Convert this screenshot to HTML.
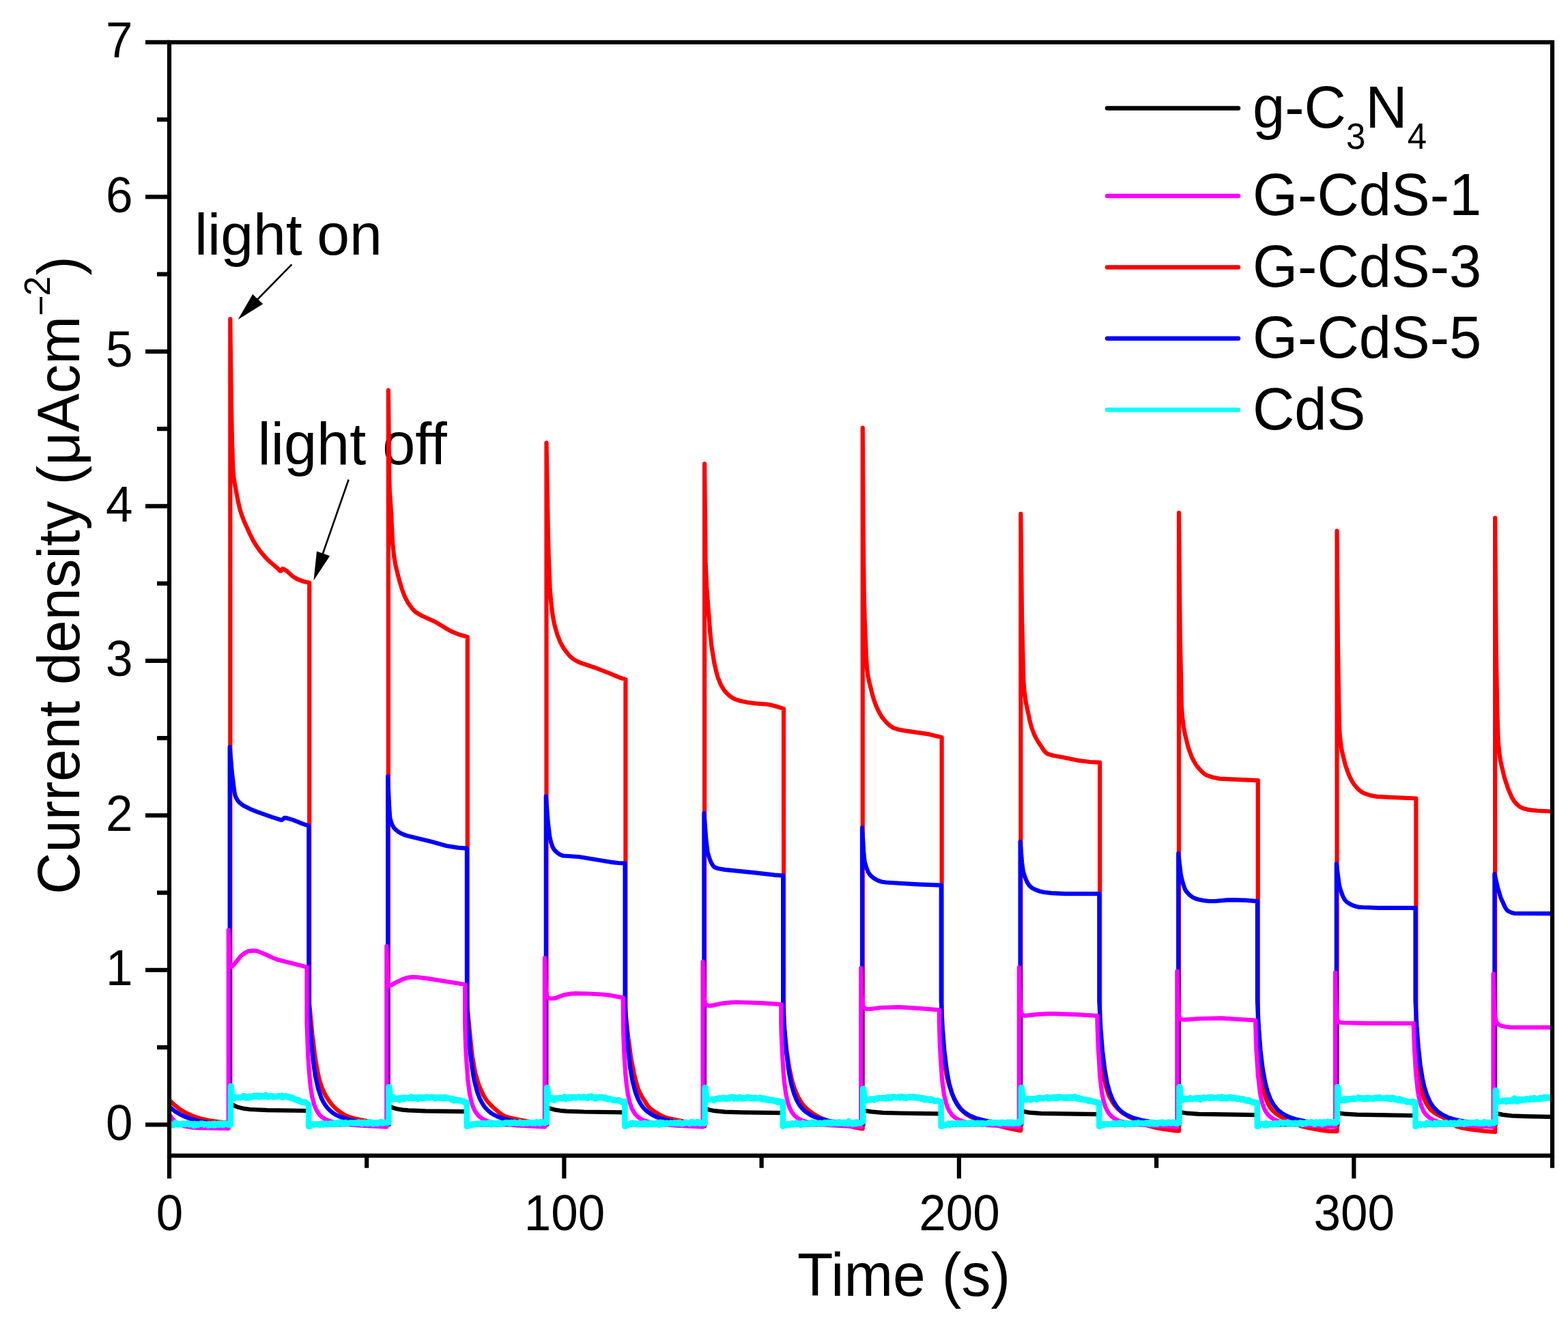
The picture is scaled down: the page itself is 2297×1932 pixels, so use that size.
<!DOCTYPE html>
<html><head><meta charset="utf-8"><title>Current density vs Time</title>
<style>html,body{margin:0;padding:0;background:#fff;overflow:hidden;width:2297px;height:1932px;}svg{display:block;}</style>
</head><body>
<svg width="2297" height="1932" viewBox="0 0 2297 1932">
<rect width="2297" height="1932" fill="#fff"/>
<g font-family="'Liberation Sans', Arial, sans-serif" fill="#000">
<text font-size="86" x="285" y="372.7">light<tspan dx="-2.5"> on</tspan></text>
<text font-size="86.5" x="377.5" y="679.7">light off</text>
</g>
<g fill="none" stroke-width="6.2" stroke-linejoin="round" stroke-linecap="butt">
<path d="M248.0 1646.9L338.3 1646.9L338.3 1616.6L343.8 1619.8L349.8 1622.1L357.8 1623.9L366.8 1625.0L391.8 1626.1L452.7 1627.0L452.7 1647.4L569.9 1646.9L569.9 1620.2L575.4 1622.6L581.4 1624.2L589.4 1625.6L598.4 1626.4L623.4 1627.3L684.3 1628.1L684.3 1647.4L801.5 1646.9L801.5 1622.0L807.0 1624.1L813.0 1625.6L821.0 1626.8L830.0 1627.6L855.0 1628.5L915.9 1629.3L915.9 1647.4L1033.1 1646.9L1033.1 1623.6L1038.6 1625.5L1044.6 1626.8L1061.6 1628.6L1086.6 1629.4L1147.5 1630.2L1147.5 1647.4L1264.7 1646.9L1264.7 1625.9L1270.2 1627.4L1276.2 1628.4L1293.2 1629.8L1318.2 1630.5L1379.1 1631.3L1379.1 1647.4L1496.3 1646.9L1496.3 1627.5L1507.8 1629.6L1524.8 1630.8L1610.7 1632.2L1610.7 1647.4L1727.9 1646.9L1727.9 1628.8L1739.4 1630.7L1756.4 1631.8L1842.3 1633.1L1842.3 1647.4L1959.5 1646.9L1959.5 1630.0L1971.0 1631.7L1988.0 1632.7L2073.9 1634.0L2073.9 1647.4L2191.1 1646.9L2191.1 1630.6L2201.6 1632.9L2214.6 1634.3L2234.6 1635.1L2272.5 1635.8" stroke="#000"/>
<path d="M248.0 1611.2L255.5 1618.5L264.0 1625.1L273.0 1630.4L283.0 1634.9L294.0 1638.4L306.5 1641.2L321.0 1643.4L337.3 1645.0L337.3 467.3L338.8 592.0L340.1 650.8L341.3 686.6L342.4 698.3L343.6 707.2L349.2 736.6L352.0 748.1L354.8 756.4L358.0 764.5L365.1 780.3L370.9 791.8L375.0 798.6L379.8 805.6L384.9 811.9L390.4 818.1L395.5 823.0L406.9 832.6L410.4 836.4L411.4 836.4L413.7 833.2L415.2 833.4L420.3 836.5L428.9 844.3L435.0 848.0L444.8 851.8L453.2 853.5L453.2 1470.7L457.4 1514.3L461.9 1551.1L466.2 1574.6L468.2 1582.9L470.2 1589.2L473.2 1597.0L477.2 1605.0L482.2 1612.7L487.2 1619.1L492.2 1624.2L498.2 1628.9L505.2 1633.4L511.2 1636.1L521.2 1638.9L541.2 1642.8L557.2 1645.2L568.9 1646.3L568.9 571.5L570.2 699.3L570.9 719.3L573.2 753.3L575.2 796.6L577.2 814.6L579.5 828.2L584.3 847.7L588.4 861.7L592.7 873.4L597.2 882.1L603.6 891.2L606.6 894.5L609.6 897.0L618.0 902.0L637.2 910.6L655.2 921.5L661.7 925.1L673.6 929.8L684.8 933.0L684.8 1477.5L690.3 1534.2L692.0 1548.1L696.3 1572.2L700.8 1587.4L703.8 1594.9L707.8 1603.4L710.8 1608.7L714.8 1614.2L720.8 1620.5L731.8 1630.1L735.8 1633.1L739.8 1635.1L745.8 1637.0L752.8 1638.6L786.8 1645.3L798.8 1647.4L800.5 1647.4L800.5 648.5L803.0 787.4L804.0 824.6L805.6 860.7L807.1 880.5L809.6 901.2L812.1 914.4L816.4 929.6L821.0 941.2L826.1 950.1L833.4 959.6L836.9 963.0L840.7 965.9L845.8 968.8L851.6 971.3L870.8 977.7L893.3 986.4L907.0 992.2L916.4 995.1L916.4 1484.3L920.4 1520.6L924.6 1551.5L929.4 1574.9L932.4 1587.0L935.4 1596.4L940.4 1606.4L947.4 1617.5L951.4 1622.5L955.4 1625.9L959.4 1628.6L968.4 1634.0L973.4 1636.4L979.4 1638.1L996.4 1641.5L1030.4 1649.7L1032.1 1649.7L1032.1 679.3L1033.6 822.4L1035.1 859.0L1040.2 925.0L1042.2 945.5L1046.3 971.0L1049.1 983.1L1051.8 992.9L1055.9 1002.7L1058.7 1007.7L1061.7 1012.2L1064.5 1015.3L1068.5 1018.9L1072.3 1021.7L1076.1 1023.9L1084.7 1026.7L1096.1 1029.0L1106.7 1030.4L1122.2 1031.5L1128.5 1032.4L1136.6 1034.5L1148.0 1038.1L1148.2 1500.6L1152.2 1537.6L1156.2 1564.0L1160.0 1581.7L1163.0 1591.8L1166.0 1599.9L1169.0 1606.4L1173.0 1613.5L1176.0 1617.8L1180.0 1622.3L1185.0 1626.8L1191.0 1631.1L1198.0 1635.4L1204.0 1638.3L1215.0 1642.1L1234.0 1647.2L1253.0 1651.4L1262.0 1653.1L1263.7 1653.1L1263.7 626.6L1264.7 783.9L1265.7 868.5L1266.7 906.5L1269.0 962.1L1270.0 978.1L1271.5 989.8L1273.6 1000.1L1278.1 1017.8L1280.9 1027.2L1283.7 1034.7L1288.0 1043.7L1292.3 1050.8L1297.3 1056.9L1303.2 1062.6L1309.0 1066.4L1316.8 1068.7L1325.9 1070.4L1360.6 1075.4L1379.6 1080.0L1379.6 1511.5L1382.6 1546.0L1384.3 1561.9L1387.3 1578.1L1391.6 1593.3L1394.6 1601.8L1397.6 1608.7L1403.6 1618.9L1407.6 1624.3L1411.6 1628.7L1415.6 1632.0L1420.6 1635.1L1431.6 1639.9L1449.6 1645.8L1476.6 1652.4L1492.6 1655.6L1495.3 1655.8L1495.3 752.5L1497.1 907.4L1499.3 996.3L1500.6 1012.1L1502.6 1027.6L1508.2 1054.2L1511.5 1066.7L1515.5 1077.0L1520.3 1085.9L1529.2 1099.2L1532.0 1102.3L1534.5 1104.2L1543.1 1106.8L1557.0 1109.3L1578.8 1113.8L1596.5 1116.0L1611.2 1116.9L1611.2 1529.6L1612.0 1538.9L1613.7 1556.8L1616.7 1576.8L1620.5 1592.9L1624.2 1604.4L1629.2 1613.8L1632.2 1618.1L1636.2 1622.8L1644.2 1629.8L1654.2 1636.1L1671.2 1644.8L1678.2 1647.6L1685.2 1649.7L1695.2 1652.2L1705.2 1654.0L1718.2 1655.8L1726.9 1656.5L1726.9 751.1L1728.7 927.5L1730.9 1034.1L1732.2 1051.1L1734.0 1065.5L1736.0 1075.9L1740.8 1095.2L1745.6 1108.3L1748.7 1114.5L1751.9 1120.0L1755.0 1124.1L1760.3 1130.0L1764.1 1133.3L1767.4 1135.3L1777.2 1138.8L1786.6 1140.6L1842.8 1143.2L1842.8 1545.5L1846.3 1574.7L1849.0 1590.6L1851.3 1599.9L1855.8 1612.7L1859.8 1620.9L1863.8 1626.2L1868.8 1630.8L1875.8 1635.4L1888.8 1642.2L1898.8 1646.7L1908.8 1650.2L1918.8 1652.5L1936.8 1655.6L1947.8 1656.8L1958.5 1657.1L1958.5 777.6L1960.0 948.8L1961.8 1062.5L1962.8 1077.7L1964.6 1093.2L1966.1 1101.3L1971.1 1121.7L1976.0 1134.9L1979.2 1141.8L1982.5 1147.4L1985.6 1151.5L1990.1 1156.3L1993.9 1159.5L1997.5 1161.6L2007.6 1165.1L2017.4 1166.9L2074.4 1169.5L2074.4 1545.5L2078.2 1577.4L2081.4 1594.2L2083.9 1603.2L2086.4 1610.1L2089.4 1616.2L2093.4 1622.6L2096.4 1626.2L2100.4 1629.4L2104.4 1631.9L2115.4 1637.5L2128.4 1647.1L2133.4 1649.8L2142.4 1652.2L2153.4 1654.1L2175.4 1656.9L2190.1 1658.0L2190.1 758.6L2191.6 939.9L2193.3 1040.9L2194.8 1086.1L2196.3 1102.2L2198.3 1115.5L2203.8 1138.9L2209.6 1156.3L2214.6 1167.8L2218.3 1173.8L2221.6 1177.7L2225.3 1180.8L2229.1 1183.1L2231.6 1184.2L2237.3 1185.6L2243.8 1186.7L2251.8 1187.5L2272.5 1188.5" stroke="#f00"/>
<path d="M248.0 1621.1L255.5 1627.2L263.5 1632.2L272.5 1636.4L282.0 1639.7L293.0 1642.4L305.5 1644.5L320.0 1646.0L336.6 1647.1L336.6 1094.1L339.9 1132.4L343.4 1160.1L344.4 1165.0L345.7 1168.2L348.0 1172.2L350.5 1175.2L356.6 1180.0L366.1 1184.8L376.0 1188.8L398.5 1196.9L412.4 1201.2L413.6 1200.7L416.7 1197.9L419.9 1198.2L429.0 1200.9L445.2 1207.3L452.3 1209.6L452.3 1466.2L454.1 1499.8L456.3 1530.9L459.1 1557.2L462.1 1577.0L466.3 1595.5L470.3 1607.1L473.3 1613.4L476.3 1618.4L479.3 1622.4L483.3 1626.7L487.3 1629.9L491.3 1632.6L496.3 1635.1L502.3 1637.5L515.3 1641.0L532.3 1643.8L549.3 1645.6L568.2 1646.9L568.2 1137.1L570.0 1179.1L571.2 1197.5L573.0 1204.1L575.0 1209.2L577.0 1212.5L580.1 1215.6L583.9 1218.6L587.9 1220.9L593.7 1223.3L599.8 1225.1L631.8 1232.7L654.1 1239.0L670.7 1241.6L683.9 1242.6L683.9 1466.2L685.9 1503.9L688.4 1536.5L691.1 1561.1L694.6 1582.1L698.9 1598.8L702.9 1609.4L705.9 1615.2L708.9 1619.9L711.9 1623.6L715.9 1627.6L719.9 1630.7L723.9 1633.1L728.9 1635.6L734.9 1637.9L748.9 1641.5L766.9 1644.2L782.9 1645.8L799.8 1646.9L799.8 1166.3L802.8 1205.5L805.4 1226.3L807.6 1235.2L809.9 1241.4L811.9 1244.7L816.0 1248.8L820.5 1251.9L825.1 1253.5L848.0 1255.0L895.0 1262.8L905.6 1264.0L915.5 1264.6L915.5 1466.2L917.8 1507.7L920.2 1539.1L923.2 1564.6L926.8 1584.5L930.5 1598.8L932.5 1604.6L935.5 1611.5L938.5 1616.9L941.5 1621.2L944.5 1624.7L948.5 1628.4L956.5 1633.7L961.5 1636.0L967.5 1638.2L981.5 1641.7L998.5 1644.2L1014.5 1645.8L1031.4 1646.9L1031.4 1191.0L1034.4 1230.5L1036.5 1247.5L1038.7 1255.5L1041.2 1262.2L1043.8 1267.0L1046.3 1269.9L1047.8 1270.8L1052.4 1272.2L1062.0 1273.9L1106.4 1278.4L1134.7 1281.7L1147.1 1282.7L1147.1 1466.2L1149.3 1507.7L1151.8 1539.1L1155.1 1566.4L1158.8 1586.8L1163.1 1601.8L1167.1 1611.5L1170.1 1616.9L1173.1 1621.2L1176.1 1624.7L1180.1 1628.4L1188.1 1633.7L1193.1 1636.0L1199.1 1638.2L1212.1 1641.5L1229.1 1644.1L1245.1 1645.7L1263.0 1646.9L1263.0 1212.3L1265.3 1249.4L1266.5 1261.5L1269.1 1270.7L1271.8 1277.4L1274.9 1281.9L1279.4 1285.8L1283.7 1288.5L1288.3 1290.6L1292.3 1291.7L1297.6 1292.5L1345.1 1295.3L1378.7 1296.6L1378.7 1466.2L1380.9 1507.7L1383.4 1539.1L1386.7 1566.4L1390.4 1586.8L1394.7 1601.8L1398.7 1611.5L1401.7 1616.9L1404.7 1621.2L1407.7 1624.7L1411.7 1628.4L1419.7 1633.7L1429.7 1637.9L1442.7 1641.3L1458.7 1643.8L1475.7 1645.6L1494.6 1646.9L1494.6 1232.9L1497.1 1263.6L1498.9 1276.7L1501.7 1285.3L1504.7 1292.2L1508.0 1297.2L1511.5 1300.4L1517.6 1303.5L1524.1 1305.8L1530.0 1307.0L1540.1 1308.1L1560.5 1309.2L1610.3 1309.2L1610.3 1466.2L1612.5 1507.7L1615.0 1539.1L1618.3 1566.4L1622.0 1586.8L1626.3 1601.8L1630.3 1611.5L1635.3 1619.9L1638.3 1623.6L1642.3 1627.6L1646.3 1630.7L1650.3 1633.1L1660.3 1637.5L1672.3 1640.8L1687.3 1643.4L1705.3 1645.4L1726.2 1646.9L1726.2 1250.1L1729.7 1280.4L1731.5 1288.6L1733.8 1296.7L1736.0 1302.6L1738.1 1306.1L1742.6 1310.9L1747.2 1314.3L1751.2 1316.2L1755.7 1317.5L1764.1 1319.2L1771.4 1320.0L1779.7 1320.0L1796.9 1318.3L1804.2 1318.1L1824.4 1318.6L1841.9 1320.1L1841.9 1466.2L1844.1 1507.7L1846.6 1539.1L1849.6 1564.6L1853.4 1585.6L1856.9 1598.8L1860.9 1609.4L1865.9 1618.4L1871.9 1625.7L1878.9 1631.3L1887.9 1636.0L1898.9 1639.6L1912.9 1642.5L1932.9 1645.0L1957.8 1646.9L1957.8 1265.3L1961.3 1292.7L1962.6 1299.6L1964.1 1304.7L1967.1 1312.7L1970.2 1318.2L1972.7 1321.0L1977.5 1324.1L1982.0 1326.3L1986.6 1327.8L1990.6 1328.6L1996.4 1329.0L2019.7 1329.8L2073.5 1329.8L2073.5 1466.2L2075.5 1503.9L2077.8 1533.8L2080.5 1559.2L2083.8 1579.6L2086.5 1591.9L2090.5 1604.6L2095.5 1615.2L2100.5 1622.4L2106.5 1628.4L2113.5 1633.1L2122.5 1637.2L2133.5 1640.4L2143.5 1642.4L2156.5 1644.2L2172.5 1645.8L2189.4 1646.9L2189.4 1280.2L2194.2 1300.6L2198.4 1314.7L2204.7 1328.6L2206.9 1332.2L2209.2 1334.5L2214.7 1337.0L2219.4 1338.0L2272.5 1338.2" stroke="#00f"/>
<path d="M248.0 1632.0L252.5 1638.7L257.5 1643.6L263.5 1647.2L271.0 1649.7L280.0 1651.3L291.5 1652.2L334.7 1653.0L334.7 1362.2L336.2 1407.1L337.2 1414.0L338.2 1416.4L340.2 1415.3L344.2 1411.0L352.5 1400.6L358.2 1395.9L363.0 1393.4L371.8 1392.4L375.3 1392.8L379.3 1394.0L390.0 1398.4L401.3 1403.7L406.1 1405.5L449.4 1416.4L449.4 1498.6L451.4 1548.9L452.9 1571.6L454.9 1591.5L457.1 1605.8L460.1 1617.8L463.4 1625.9L467.4 1632.1L471.4 1636.1L477.4 1639.9L484.4 1642.7L494.4 1645.0L507.4 1646.9L524.4 1648.4L566.3 1650.7L566.3 1385.8L567.8 1434.3L569.1 1441.6L570.3 1444.0L572.8 1443.3L577.6 1440.3L589.8 1434.2L598.1 1431.8L603.6 1431.1L610.9 1431.4L625.4 1433.1L681.0 1442.0L681.0 1498.6L682.2 1533.5L683.8 1561.3L685.5 1582.7L687.5 1598.6L689.8 1610.5L692.8 1620.7L696.0 1627.7L700.0 1633.3L705.0 1637.6L711.0 1640.9L719.0 1643.5L729.0 1645.5L742.0 1647.2L759.0 1648.6L797.9 1650.7L797.9 1403.2L799.7 1450.1L801.2 1458.0L801.9 1460.1L802.9 1461.6L807.4 1462.5L811.7 1462.4L815.2 1461.4L825.9 1457.3L836.0 1455.6L843.0 1455.1L862.5 1455.5L882.0 1456.5L895.8 1458.2L912.6 1461.4L912.9 1506.8L914.4 1544.1L916.1 1571.6L917.9 1589.5L919.9 1603.1L922.4 1614.5L925.6 1623.8L929.6 1630.8L933.6 1635.3L938.6 1638.9L944.6 1641.7L952.6 1644.0L962.6 1645.8L975.6 1647.4L991.6 1648.7L1029.5 1650.7L1029.5 1408.7L1031.3 1461.4L1032.8 1468.7L1033.8 1470.9L1034.8 1471.9L1038.0 1473.1L1041.3 1473.1L1057.8 1469.7L1070.8 1468.4L1079.8 1468.0L1114.9 1469.1L1144.2 1471.2L1144.2 1498.6L1144.7 1514.3L1146.0 1544.1L1147.7 1571.6L1149.2 1587.3L1151.2 1601.7L1153.5 1612.6L1156.2 1621.4L1159.2 1627.7L1163.2 1633.3L1167.2 1636.9L1173.2 1640.4L1180.2 1643.0L1189.2 1645.0L1201.2 1646.8L1216.2 1648.2L1261.1 1650.7L1261.1 1418.0L1262.4 1456.7L1263.1 1468.3L1265.1 1474.9L1266.1 1476.2L1267.9 1477.3L1270.1 1478.1L1272.6 1478.2L1289.6 1476.0L1316.9 1475.1L1349.0 1477.1L1375.8 1479.3L1375.8 1498.6L1376.8 1527.6L1378.0 1553.3L1379.5 1574.6L1381.0 1589.5L1383.0 1603.1L1385.3 1613.5L1387.8 1621.4L1390.8 1627.7L1394.8 1633.3L1398.8 1636.9L1404.8 1640.4L1411.8 1643.0L1419.8 1644.8L1430.8 1646.5L1443.8 1647.8L1492.7 1650.7L1492.7 1417.0L1494.5 1474.7L1495.0 1478.7L1496.2 1483.3L1497.2 1485.4L1498.7 1486.7L1501.0 1487.6L1503.7 1487.7L1521.2 1485.7L1535.0 1484.9L1544.8 1484.8L1579.1 1486.2L1607.4 1487.9L1607.4 1498.6L1608.7 1533.5L1611.2 1574.6L1612.7 1589.5L1614.4 1601.7L1616.4 1611.6L1618.9 1620.0L1621.4 1625.9L1624.4 1630.8L1628.4 1635.3L1633.4 1638.9L1639.4 1641.7L1646.4 1643.8L1654.4 1645.4L1665.4 1646.9L1689.4 1648.9L1724.3 1650.7L1724.3 1422.5L1726.1 1481.5L1727.3 1488.3L1728.3 1490.8L1729.6 1492.3L1732.1 1493.4L1734.8 1493.6L1758.4 1492.0L1788.4 1491.4L1839.0 1494.5L1840.5 1539.0L1842.8 1574.6L1845.8 1600.2L1847.5 1609.4L1849.8 1617.8L1852.0 1623.8L1855.0 1629.4L1858.0 1633.3L1862.0 1636.9L1867.0 1639.9L1872.0 1642.0L1879.0 1644.0L1888.0 1645.7L1914.0 1648.4L1955.9 1650.7L1955.9 1424.5L1957.7 1486.0L1958.9 1492.8L1959.9 1495.4L1960.9 1496.7L1963.9 1497.7L1967.9 1498.0L2003.7 1498.8L2070.6 1499.0L2070.6 1498.6L2072.1 1539.0L2074.1 1571.6L2076.6 1595.2L2078.3 1605.8L2080.1 1613.5L2082.1 1620.0L2084.6 1625.9L2086.6 1629.4L2089.6 1633.3L2093.6 1636.9L2097.6 1639.4L2102.6 1641.7L2108.6 1643.5L2119.6 1645.7L2135.6 1647.6L2157.6 1649.2L2187.5 1650.7L2187.5 1426.6L2188.8 1470.1L2189.5 1484.1L2191.5 1495.1L2192.5 1497.6L2194.5 1499.9L2196.8 1501.5L2199.2 1502.5L2206.2 1504.0L2213.0 1504.8L2272.5 1504.9" stroke="#f0f"/>
<path d="M248.0 1645.1L249.0 1648.7L250.0 1646.4L251.0 1647.2L253.0 1646.9L254.0 1648.3L255.0 1646.9L256.0 1647.4L257.0 1644.1L258.0 1646.5L259.0 1647.0L260.0 1646.9L262.0 1647.6L264.0 1646.3L265.0 1646.9L266.0 1646.0L267.0 1646.9L268.0 1646.7L269.0 1645.5L271.0 1647.1L273.0 1646.3L274.0 1645.2L275.0 1646.9L276.0 1646.9L277.0 1645.9L278.0 1647.4L279.0 1647.0L280.0 1646.0L282.0 1646.6L283.0 1646.2L284.0 1649.0L285.0 1645.9L286.0 1647.5L287.0 1648.0L288.0 1646.5L289.0 1646.2L290.0 1647.1L291.0 1647.6L292.0 1646.7L293.0 1646.8L294.0 1645.6L296.0 1646.6L297.0 1645.8L298.0 1646.9L299.0 1647.5L300.0 1646.3L301.0 1646.3L303.0 1647.3L304.0 1646.5L305.0 1648.7L306.0 1646.2L307.0 1646.3L308.0 1648.0L309.0 1646.7L310.0 1647.5L311.0 1646.1L312.0 1648.3L314.0 1646.2L315.0 1645.8L316.0 1648.4L317.0 1647.1L318.0 1646.5L319.0 1647.2L320.0 1645.5L321.0 1647.7L322.0 1646.4L323.0 1647.6L324.0 1645.6L325.0 1646.7L326.0 1647.0L327.0 1648.1L328.0 1645.4L329.0 1646.1L330.0 1646.1L331.0 1645.8L333.0 1647.2L334.0 1647.4L335.0 1647.4L336.0 1645.6L337.0 1647.9L338.0 1647.2L337.8 1647.2L337.8 1590.8L338.8 1590.8L339.8 1602.6L340.8 1607.8L341.8 1609.1L342.8 1609.4L344.8 1607.0L347.8 1608.0L348.8 1607.4L349.8 1607.8L350.8 1606.9L351.8 1608.1L352.8 1607.3L353.8 1607.4L354.8 1606.8L355.8 1607.0L356.8 1605.1L357.8 1605.8L358.8 1605.8L359.8 1608.5L360.8 1607.1L361.8 1607.3L362.8 1606.3L363.8 1608.5L364.8 1605.7L365.8 1605.7L366.8 1607.5L368.8 1607.0L370.8 1605.8L371.8 1604.7L372.8 1606.4L373.8 1605.6L374.8 1606.0L375.8 1604.7L376.8 1605.5L377.8 1605.0L378.8 1606.9L379.8 1606.1L380.8 1606.6L381.8 1604.7L383.8 1606.1L384.8 1606.2L385.8 1605.4L386.8 1606.4L387.8 1606.5L389.8 1603.8L390.8 1605.9L392.8 1606.7L393.8 1606.8L394.8 1605.3L395.8 1605.0L396.8 1605.7L397.8 1605.5L399.8 1605.6L400.8 1607.0L401.8 1606.1L402.8 1605.7L403.8 1606.4L404.8 1606.2L405.8 1606.5L406.8 1606.1L407.8 1605.2L408.8 1606.2L409.8 1606.0L410.8 1605.3L411.8 1605.5L412.8 1604.7L413.8 1607.7L414.8 1605.4L415.8 1606.5L417.8 1605.5L418.8 1605.4L419.8 1605.7L420.8 1606.7L421.8 1605.9L422.8 1607.7L423.8 1607.9L424.8 1607.5L425.8 1608.9L426.8 1607.0L427.8 1608.2L428.8 1607.6L429.8 1609.7L430.8 1610.3L432.8 1610.1L433.8 1611.4L434.8 1611.0L435.8 1611.6L436.8 1610.7L437.8 1612.8L438.8 1611.8L439.8 1613.5L440.8 1614.0L441.8 1614.2L442.8 1614.9L443.8 1614.2L444.8 1613.8L445.8 1614.8L446.8 1614.8L447.8 1614.3L448.8 1615.7L450.8 1616.8L451.8 1618.2L452.2 1618.2L452.2 1650.1L453.2 1647.8L454.2 1649.5L455.2 1647.3L456.2 1647.6L457.2 1646.5L459.2 1647.7L460.2 1646.7L461.2 1647.3L463.2 1646.6L465.2 1646.7L466.2 1647.1L467.2 1646.5L468.2 1648.0L469.2 1646.4L470.2 1647.2L471.2 1645.3L472.2 1645.2L473.2 1647.7L474.2 1646.0L475.2 1646.2L476.2 1646.9L477.2 1645.6L479.2 1647.4L480.2 1646.2L482.2 1645.8L483.2 1646.9L484.2 1645.4L485.2 1645.3L486.2 1646.8L488.2 1645.9L489.2 1646.2L490.2 1644.4L492.2 1646.5L493.2 1646.3L494.2 1645.7L495.2 1643.8L496.2 1645.8L498.2 1645.2L499.2 1645.6L500.2 1643.8L501.2 1646.0L502.2 1644.9L503.2 1645.4L504.2 1645.0L505.2 1646.4L506.2 1644.0L507.2 1645.5L508.2 1645.4L509.2 1646.1L510.2 1646.0L511.2 1644.9L512.2 1644.6L513.2 1644.7L514.2 1644.3L516.2 1645.2L517.2 1644.6L518.2 1644.7L519.2 1645.3L521.2 1644.1L522.2 1645.0L523.2 1645.4L525.2 1643.6L526.2 1645.2L528.2 1645.1L529.2 1644.0L530.2 1646.4L531.2 1644.7L532.2 1644.0L533.2 1645.6L534.2 1643.7L536.2 1645.3L537.2 1644.7L538.2 1646.0L539.2 1645.3L540.2 1643.3L541.2 1645.5L542.2 1643.3L543.2 1644.8L544.2 1643.9L545.2 1644.7L546.2 1646.5L547.2 1645.1L548.2 1644.5L549.2 1645.5L550.2 1645.7L551.2 1644.3L553.2 1645.9L555.2 1643.8L556.2 1644.9L557.2 1643.7L558.2 1643.2L560.2 1645.3L561.2 1645.4L563.2 1643.7L564.2 1644.1L565.2 1643.9L566.2 1644.6L567.2 1644.0L568.2 1644.6L569.4 1644.5L569.4 1591.9L570.4 1591.9L571.4 1604.0L572.4 1610.2L573.4 1610.7L574.4 1610.5L575.4 1609.1L576.4 1609.7L577.4 1607.2L579.4 1609.9L580.4 1608.7L581.4 1609.0L582.4 1609.8L583.4 1608.3L585.4 1611.5L586.4 1608.4L587.4 1609.5L588.4 1607.7L589.4 1609.4L590.4 1609.7L591.4 1607.5L592.4 1609.6L594.4 1607.5L595.4 1608.5L596.4 1608.6L597.4 1608.4L598.4 1607.8L599.4 1609.0L600.4 1607.9L601.4 1607.8L602.4 1606.4L603.4 1608.5L604.4 1608.9L605.4 1607.6L606.4 1608.4L607.4 1607.9L608.4 1607.9L609.4 1607.1L610.4 1608.5L611.4 1608.0L612.4 1610.0L613.4 1608.6L614.4 1606.7L615.4 1608.4L616.4 1608.4L617.4 1608.8L618.4 1607.4L619.4 1607.7L620.4 1608.7L621.4 1607.3L622.4 1607.6L623.4 1607.2L624.4 1608.3L625.4 1606.4L626.4 1607.4L628.4 1608.2L629.4 1608.0L630.4 1607.1L631.4 1608.0L632.4 1606.9L633.4 1607.3L634.4 1606.7L636.4 1607.9L637.4 1609.4L638.4 1607.6L639.4 1607.3L640.4 1607.8L641.4 1607.5L642.4 1608.3L643.4 1608.3L644.4 1608.8L645.4 1607.0L646.4 1607.9L648.4 1609.2L650.4 1607.1L652.4 1609.1L653.4 1607.6L654.4 1607.7L656.4 1608.6L657.4 1608.5L658.4 1609.1L659.4 1609.1L660.4 1610.5L661.4 1608.9L662.4 1610.1L663.4 1608.9L664.4 1612.3L665.4 1610.3L666.4 1610.2L667.4 1611.5L668.4 1611.0L669.4 1611.0L670.4 1611.3L671.4 1612.4L672.4 1612.2L673.4 1611.5L674.4 1611.5L675.4 1612.6L677.4 1612.9L678.4 1612.5L679.4 1614.3L680.4 1614.7L681.4 1613.8L682.4 1614.9L683.8 1614.7L683.8 1650.1L684.8 1648.3L685.8 1647.7L686.8 1648.7L687.8 1646.9L688.8 1648.8L689.8 1646.8L690.8 1648.3L691.8 1647.9L692.8 1646.3L693.8 1647.1L694.8 1647.3L695.8 1646.9L696.8 1646.1L697.8 1646.5L698.8 1646.4L699.8 1645.5L700.8 1646.9L702.8 1646.6L703.8 1645.3L704.8 1645.4L705.8 1645.1L706.8 1646.1L707.8 1646.2L708.8 1645.4L709.8 1646.3L710.8 1645.3L711.8 1645.4L712.8 1646.5L713.8 1646.0L714.8 1646.0L715.8 1644.5L716.8 1643.8L717.8 1645.9L718.8 1645.8L719.8 1647.6L720.8 1645.6L721.8 1645.8L722.8 1646.6L723.8 1645.1L724.8 1646.9L725.8 1645.9L726.8 1645.6L727.8 1646.6L728.8 1644.9L729.8 1644.8L730.8 1646.7L731.8 1646.7L732.8 1645.1L733.8 1645.6L734.8 1646.5L735.8 1645.7L737.8 1645.6L738.8 1644.8L739.8 1645.1L740.8 1644.0L742.8 1644.8L744.8 1644.3L745.8 1644.7L746.8 1646.2L747.8 1644.6L748.8 1645.2L749.8 1643.9L750.8 1645.1L751.8 1644.8L752.8 1644.9L753.8 1643.8L754.8 1645.0L755.8 1645.3L756.8 1644.8L757.8 1645.4L758.8 1644.9L759.8 1645.0L760.8 1644.8L761.8 1643.5L762.8 1645.3L763.8 1644.9L764.8 1645.1L765.8 1644.4L766.8 1645.8L769.8 1644.4L772.8 1645.5L774.8 1643.6L775.8 1644.5L776.8 1644.5L777.8 1644.3L778.8 1645.4L779.8 1644.9L780.8 1644.8L781.8 1644.4L782.8 1644.6L783.8 1645.5L784.8 1643.7L785.8 1643.2L786.8 1644.7L787.8 1644.2L788.8 1644.3L789.8 1643.8L790.8 1645.6L791.8 1643.1L792.8 1644.8L793.8 1643.4L794.8 1644.3L795.8 1644.6L796.8 1644.4L797.8 1643.6L798.8 1645.0L799.8 1644.5L801.0 1644.6L801.0 1593.0L802.0 1593.0L803.0 1604.4L804.0 1609.3L805.0 1609.7L806.0 1608.7L807.0 1610.3L808.0 1609.6L809.0 1608.1L810.0 1608.6L811.0 1611.1L812.0 1611.9L814.0 1608.2L815.0 1609.4L816.0 1609.1L817.0 1608.4L818.0 1609.5L819.0 1608.6L820.0 1608.1L822.0 1608.2L823.0 1609.0L824.0 1608.0L825.0 1608.7L827.0 1606.2L828.0 1608.8L829.0 1609.9L830.0 1608.4L832.0 1607.2L833.0 1607.1L834.0 1608.5L835.0 1608.5L836.0 1606.8L837.0 1608.6L838.0 1606.9L839.0 1607.9L840.0 1607.1L843.0 1606.9L844.0 1608.3L845.0 1607.3L846.0 1607.5L847.0 1607.2L848.0 1606.4L849.0 1607.6L850.0 1608.0L851.0 1607.9L852.0 1607.6L853.0 1606.7L854.0 1608.0L855.0 1606.4L857.0 1607.5L858.0 1608.4L859.0 1607.1L860.0 1606.8L861.0 1608.7L862.0 1606.4L863.0 1606.0L864.0 1607.1L865.0 1607.0L866.0 1605.4L867.0 1606.4L868.0 1608.1L869.0 1607.4L871.0 1607.6L872.0 1609.4L873.0 1606.9L874.0 1608.0L875.0 1607.4L876.0 1607.7L877.0 1606.9L878.0 1607.9L879.0 1608.3L881.0 1606.7L882.0 1608.1L883.0 1606.9L885.0 1608.8L886.0 1607.3L887.0 1609.4L888.0 1608.1L889.0 1609.5L890.0 1608.9L891.0 1610.4L892.0 1610.3L893.0 1609.0L894.0 1609.9L896.0 1610.8L897.0 1610.2L898.0 1611.9L899.0 1611.9L900.0 1611.3L901.0 1612.0L902.0 1612.1L903.0 1611.8L905.0 1612.4L906.0 1611.1L907.0 1611.8L908.0 1611.8L909.0 1613.0L911.0 1614.5L912.0 1613.9L913.0 1615.5L915.0 1613.6L915.4 1613.6L915.4 1650.1L916.4 1647.1L917.4 1647.3L918.4 1648.5L919.4 1647.2L920.4 1648.0L921.4 1646.6L922.4 1647.2L923.4 1646.3L924.4 1644.8L925.4 1646.0L926.4 1644.8L927.4 1646.4L928.4 1646.8L929.4 1645.4L930.4 1645.0L931.4 1646.8L932.4 1646.2L933.4 1647.4L935.4 1645.5L938.4 1647.2L939.4 1645.8L940.4 1645.4L942.4 1645.8L943.4 1647.0L944.4 1644.6L945.4 1646.0L946.4 1646.0L947.4 1645.3L948.4 1647.6L949.4 1645.9L950.4 1645.9L951.4 1645.5L952.4 1644.7L953.4 1645.4L954.4 1647.2L955.4 1646.0L956.4 1645.5L957.4 1645.6L958.4 1646.7L959.4 1647.0L960.4 1645.2L962.4 1645.6L963.4 1646.9L964.4 1644.1L965.4 1647.8L967.4 1643.8L968.4 1645.6L969.4 1645.3L970.4 1646.4L971.4 1644.3L972.4 1646.4L973.4 1645.2L974.4 1645.2L975.4 1646.2L976.4 1644.6L977.4 1646.4L979.4 1645.3L980.4 1645.6L982.4 1644.5L983.4 1645.4L984.4 1645.6L986.4 1645.4L987.4 1644.5L988.4 1645.3L989.4 1644.7L991.4 1645.7L992.4 1644.3L993.4 1645.8L995.4 1643.8L996.4 1645.8L997.4 1645.0L998.4 1646.1L999.4 1645.3L1000.4 1646.0L1001.4 1645.1L1002.4 1645.2L1003.4 1644.7L1004.4 1643.5L1005.4 1644.5L1006.4 1644.2L1007.4 1644.8L1008.4 1644.9L1009.4 1645.3L1010.4 1646.1L1012.4 1643.3L1014.4 1645.0L1015.4 1643.3L1016.4 1644.9L1017.4 1645.0L1018.4 1645.5L1019.4 1645.2L1020.4 1644.7L1021.4 1642.9L1022.4 1644.6L1023.4 1645.2L1025.4 1644.5L1026.4 1645.7L1027.4 1644.2L1028.4 1643.8L1029.4 1644.0L1030.4 1643.8L1031.4 1645.3L1032.6 1645.6L1032.6 1593.0L1033.6 1593.0L1034.6 1604.8L1035.6 1611.7L1036.6 1610.2L1037.6 1610.3L1038.6 1609.8L1040.6 1610.5L1041.6 1609.9L1042.6 1609.9L1043.6 1609.9L1044.6 1611.3L1045.6 1612.1L1046.6 1610.3L1047.6 1610.9L1048.6 1609.4L1049.6 1608.9L1051.6 1609.7L1052.6 1609.2L1053.6 1608.3L1054.6 1609.8L1055.6 1608.4L1057.6 1608.8L1058.6 1607.8L1059.6 1609.5L1060.6 1608.1L1061.6 1609.5L1062.6 1609.3L1063.6 1609.5L1064.6 1608.3L1065.6 1609.3L1066.6 1608.5L1067.6 1609.4L1068.6 1607.6L1069.6 1607.0L1070.6 1608.2L1071.6 1607.0L1072.6 1607.9L1073.6 1606.5L1075.6 1609.5L1076.6 1607.0L1077.6 1608.3L1078.6 1608.9L1079.6 1608.6L1080.6 1609.4L1081.6 1608.2L1082.6 1608.9L1083.6 1606.9L1084.6 1607.5L1085.6 1609.3L1086.6 1609.2L1087.6 1608.4L1088.6 1609.5L1089.6 1608.1L1090.6 1608.0L1091.6 1608.6L1092.6 1608.4L1094.6 1606.9L1095.6 1606.8L1096.6 1608.0L1097.6 1607.4L1098.6 1608.6L1099.6 1607.7L1100.6 1608.9L1101.6 1607.5L1102.6 1609.1L1103.6 1608.9L1105.6 1607.8L1106.6 1609.4L1108.6 1608.2L1109.6 1608.2L1110.6 1609.1L1111.6 1608.3L1112.6 1608.7L1113.6 1607.4L1114.6 1608.2L1115.6 1609.9L1116.6 1610.8L1117.6 1609.1L1118.6 1608.5L1119.6 1609.4L1120.6 1609.1L1122.6 1611.2L1123.6 1609.7L1124.6 1610.4L1125.6 1610.2L1126.6 1612.0L1127.6 1610.9L1128.6 1611.8L1129.6 1610.8L1130.6 1612.1L1132.6 1612.5L1133.6 1611.3L1135.6 1613.3L1137.6 1613.9L1138.6 1612.1L1139.6 1614.9L1140.6 1614.3L1141.6 1613.4L1142.6 1613.1L1143.6 1614.4L1144.6 1613.9L1147.0 1614.1L1147.0 1650.1L1149.0 1646.8L1150.0 1647.6L1151.0 1646.4L1152.0 1648.2L1153.0 1646.4L1154.0 1648.0L1155.0 1648.1L1156.0 1646.4L1157.0 1647.4L1158.0 1646.3L1159.0 1647.4L1160.0 1645.2L1162.0 1647.3L1163.0 1646.2L1164.0 1645.6L1165.0 1646.8L1167.0 1644.5L1169.0 1646.1L1170.0 1646.5L1171.0 1645.6L1173.0 1648.4L1174.0 1646.5L1175.0 1646.8L1176.0 1644.5L1178.0 1646.6L1179.0 1646.8L1180.0 1645.4L1181.0 1646.5L1183.0 1645.8L1186.0 1645.6L1187.0 1644.6L1188.0 1644.3L1189.0 1646.9L1190.0 1643.6L1191.0 1645.5L1192.0 1644.6L1193.0 1646.1L1194.0 1645.3L1196.0 1645.4L1197.0 1644.8L1198.0 1644.9L1199.0 1646.2L1201.0 1644.8L1202.0 1644.8L1203.0 1645.6L1205.0 1645.4L1206.0 1646.2L1207.0 1646.3L1208.0 1644.0L1209.0 1645.5L1210.0 1645.1L1211.0 1645.8L1212.0 1644.1L1213.0 1643.8L1214.0 1645.3L1215.0 1644.7L1216.0 1645.7L1217.0 1643.7L1218.0 1644.3L1219.0 1645.7L1220.0 1644.0L1221.0 1644.7L1223.0 1644.7L1224.0 1645.5L1225.0 1645.4L1226.0 1644.4L1228.0 1645.6L1229.0 1643.2L1230.0 1645.0L1231.0 1645.3L1232.0 1645.3L1233.0 1644.2L1234.0 1644.0L1235.0 1644.5L1236.0 1644.0L1237.0 1645.9L1238.0 1645.0L1239.0 1645.0L1241.0 1644.2L1242.0 1646.2L1243.0 1642.1L1244.0 1645.3L1245.0 1644.3L1246.0 1643.9L1247.0 1643.8L1248.0 1644.3L1249.0 1646.8L1251.0 1643.8L1252.0 1645.2L1253.0 1645.2L1254.0 1646.3L1255.0 1643.4L1256.0 1643.9L1257.0 1645.0L1258.0 1644.4L1259.0 1644.4L1260.0 1645.2L1261.0 1644.5L1263.0 1643.8L1264.2 1643.2L1264.2 1594.4L1265.2 1594.4L1266.2 1605.9L1267.2 1610.9L1269.2 1612.0L1270.2 1610.0L1271.2 1611.0L1273.2 1610.0L1274.2 1611.3L1275.2 1609.8L1277.2 1610.1L1278.2 1609.6L1280.2 1611.4L1281.2 1609.8L1282.2 1610.2L1283.2 1608.7L1285.2 1609.6L1286.2 1609.0L1287.2 1607.9L1288.2 1608.0L1289.2 1608.5L1290.2 1608.3L1291.2 1608.8L1292.2 1608.6L1293.2 1607.9L1294.2 1608.4L1295.2 1608.0L1296.2 1609.0L1297.2 1609.4L1298.2 1609.3L1300.2 1606.8L1301.2 1606.8L1302.2 1608.5L1303.2 1608.9L1304.2 1607.0L1305.2 1607.2L1306.2 1608.6L1307.2 1606.6L1308.2 1607.2L1309.2 1606.3L1310.2 1607.0L1311.2 1606.6L1312.2 1607.0L1313.2 1608.0L1314.2 1607.4L1315.2 1607.7L1316.2 1606.5L1317.2 1607.9L1318.2 1608.3L1319.2 1606.5L1321.2 1605.9L1322.2 1606.2L1323.2 1608.3L1324.2 1607.6L1326.2 1607.1L1327.2 1608.8L1328.2 1607.1L1329.2 1606.9L1330.2 1607.9L1332.2 1606.3L1333.2 1607.2L1334.2 1606.5L1335.2 1606.6L1336.2 1607.1L1337.2 1607.1L1338.2 1607.8L1339.2 1606.6L1340.2 1608.0L1341.2 1608.2L1342.2 1607.2L1343.2 1608.4L1344.2 1607.5L1345.2 1607.1L1346.2 1608.0L1347.2 1608.2L1348.2 1607.7L1349.2 1608.0L1350.2 1609.9L1351.2 1609.9L1352.2 1608.0L1353.2 1608.9L1354.2 1611.0L1355.2 1610.6L1356.2 1609.7L1357.2 1610.7L1358.2 1609.7L1359.2 1610.2L1360.2 1610.1L1361.2 1611.6L1363.2 1609.5L1364.2 1611.8L1365.2 1610.4L1367.2 1611.3L1369.2 1613.1L1370.2 1613.1L1371.2 1612.0L1373.2 1612.0L1375.2 1612.7L1376.2 1613.9L1377.2 1614.7L1378.2 1613.8L1378.6 1613.8L1378.6 1650.1L1379.6 1648.0L1380.6 1648.0L1381.6 1649.0L1382.6 1648.0L1383.6 1648.5L1384.6 1647.1L1385.6 1647.9L1387.6 1646.6L1388.6 1646.6L1389.6 1645.5L1390.6 1647.4L1391.6 1648.2L1392.6 1645.7L1393.6 1645.3L1394.6 1645.2L1395.6 1646.1L1396.6 1645.8L1397.6 1646.1L1398.6 1647.2L1400.6 1645.7L1401.6 1646.5L1402.6 1644.5L1403.6 1647.2L1405.6 1645.1L1406.6 1646.4L1408.6 1647.0L1409.6 1646.5L1410.6 1644.7L1411.6 1645.5L1412.6 1645.4L1413.6 1646.2L1414.6 1645.1L1416.6 1646.5L1418.6 1645.5L1419.6 1644.8L1420.6 1645.7L1421.6 1645.2L1422.6 1644.0L1423.6 1646.2L1424.6 1646.6L1425.6 1644.8L1427.6 1645.6L1428.6 1645.3L1429.6 1645.7L1430.6 1645.1L1431.6 1645.7L1432.6 1644.8L1433.6 1646.3L1434.6 1646.0L1435.6 1645.3L1436.6 1645.7L1437.6 1644.8L1439.6 1645.7L1440.6 1645.1L1442.6 1646.5L1445.6 1645.5L1447.6 1644.4L1448.6 1644.7L1449.6 1643.7L1450.6 1644.1L1451.6 1645.2L1452.6 1643.7L1453.6 1644.1L1454.6 1645.4L1456.6 1644.1L1457.6 1644.7L1458.6 1644.1L1459.6 1644.6L1460.6 1644.3L1461.6 1645.1L1462.6 1644.5L1463.6 1645.1L1464.6 1644.3L1465.6 1646.1L1466.6 1644.5L1467.6 1643.7L1469.6 1644.7L1470.6 1644.3L1471.6 1645.3L1472.6 1645.3L1474.6 1644.7L1475.6 1643.8L1476.6 1645.3L1477.6 1643.8L1478.6 1645.8L1480.6 1644.5L1481.6 1643.5L1483.6 1646.1L1484.6 1644.1L1485.6 1644.4L1486.6 1645.2L1487.6 1645.2L1488.6 1644.9L1490.6 1643.8L1491.6 1645.4L1492.6 1642.4L1493.6 1644.3L1494.6 1644.5L1495.8 1643.7L1495.8 1593.0L1496.8 1593.0L1497.8 1605.1L1498.8 1610.0L1499.8 1611.0L1502.8 1610.8L1503.8 1609.9L1504.8 1610.8L1505.8 1608.9L1506.8 1610.2L1507.8 1610.2L1508.8 1609.2L1509.8 1611.4L1511.8 1609.2L1512.8 1609.6L1513.8 1609.5L1514.8 1609.1L1515.8 1609.8L1516.8 1609.4L1517.8 1610.3L1518.8 1610.6L1519.8 1608.1L1520.8 1609.7L1521.8 1609.5L1522.8 1607.7L1523.8 1607.9L1524.8 1609.1L1525.8 1609.1L1526.8 1608.7L1527.8 1609.3L1528.8 1608.0L1529.8 1608.3L1530.8 1608.3L1531.8 1607.7L1532.8 1607.7L1533.8 1606.8L1534.8 1607.0L1535.8 1609.5L1536.8 1607.4L1537.8 1608.9L1538.8 1609.1L1539.8 1607.4L1540.8 1608.5L1541.8 1608.2L1542.8 1607.0L1543.8 1608.4L1544.8 1608.5L1546.8 1606.8L1547.8 1607.4L1548.8 1609.0L1550.8 1607.9L1551.8 1606.2L1552.8 1607.0L1553.8 1607.1L1554.8 1606.8L1555.8 1608.0L1556.8 1607.4L1557.8 1607.4L1558.8 1608.5L1560.8 1607.3L1561.8 1608.7L1562.8 1607.2L1564.8 1607.1L1565.8 1608.5L1567.8 1606.8L1568.8 1607.4L1569.8 1608.7L1571.8 1607.0L1572.8 1608.2L1573.8 1607.9L1574.8 1606.2L1575.8 1608.4L1576.8 1608.5L1577.8 1609.4L1578.8 1609.3L1579.8 1607.8L1581.8 1610.3L1582.8 1610.3L1584.8 1609.3L1585.8 1610.7L1586.8 1609.8L1587.8 1610.9L1588.8 1610.5L1589.8 1610.5L1590.8 1610.7L1591.8 1611.7L1592.8 1611.7L1593.8 1611.4L1594.8 1613.0L1595.8 1612.1L1597.8 1611.8L1598.8 1612.9L1599.8 1613.2L1600.8 1613.2L1601.8 1614.1L1603.8 1613.7L1604.8 1614.0L1605.8 1615.2L1606.8 1614.9L1607.8 1616.5L1608.8 1614.5L1609.8 1615.7L1610.2 1615.7L1610.2 1650.1L1611.2 1648.2L1612.2 1649.0L1613.2 1647.9L1615.2 1646.6L1616.2 1648.3L1617.2 1646.4L1619.2 1647.4L1620.2 1646.4L1621.2 1646.9L1622.2 1646.8L1623.2 1647.1L1624.2 1646.3L1625.2 1646.4L1626.2 1646.5L1627.2 1647.1L1628.2 1646.7L1630.2 1645.2L1631.2 1646.2L1632.2 1645.0L1634.2 1647.0L1635.2 1645.6L1636.2 1646.8L1637.2 1645.7L1638.2 1645.1L1639.2 1646.2L1640.2 1646.0L1641.2 1644.0L1642.2 1645.7L1643.2 1645.7L1644.2 1645.2L1645.2 1645.9L1646.2 1645.9L1647.2 1645.5L1648.2 1647.7L1649.2 1644.6L1650.2 1646.6L1651.2 1646.6L1652.2 1645.3L1653.2 1645.7L1654.2 1646.6L1655.2 1645.5L1656.2 1646.5L1657.2 1646.2L1658.2 1646.8L1659.2 1646.2L1660.2 1645.2L1661.2 1645.4L1662.2 1645.3L1663.2 1644.8L1665.2 1646.0L1666.2 1645.6L1667.2 1644.1L1668.2 1645.4L1669.2 1645.1L1670.2 1645.4L1672.2 1645.0L1674.2 1645.4L1675.2 1645.9L1676.2 1645.9L1677.2 1644.9L1679.2 1644.4L1681.2 1645.8L1682.2 1644.6L1683.2 1644.6L1684.2 1646.3L1685.2 1644.4L1686.2 1644.6L1687.2 1643.7L1688.2 1645.9L1689.2 1646.0L1690.2 1644.3L1691.2 1646.4L1692.2 1645.5L1693.2 1645.8L1694.2 1645.7L1695.2 1646.4L1697.2 1644.1L1698.2 1644.5L1699.2 1644.4L1700.2 1645.0L1701.2 1643.6L1702.2 1644.3L1703.2 1643.9L1704.2 1645.9L1705.2 1644.4L1706.2 1645.6L1707.2 1644.4L1708.2 1644.5L1709.2 1645.5L1711.2 1643.6L1712.2 1644.1L1713.2 1644.0L1714.2 1645.2L1715.2 1645.0L1716.2 1645.3L1718.2 1643.5L1720.2 1644.4L1721.2 1645.2L1722.2 1644.0L1723.2 1644.5L1724.2 1645.8L1725.2 1645.6L1726.2 1644.5L1727.4 1644.9L1727.4 1591.9L1728.4 1591.9L1729.4 1604.4L1730.4 1611.3L1731.4 1610.8L1732.4 1609.1L1733.4 1611.0L1734.4 1609.6L1735.4 1609.8L1736.4 1608.9L1738.4 1610.2L1739.4 1609.4L1740.4 1609.7L1741.4 1608.9L1742.4 1609.7L1743.4 1608.0L1744.4 1609.6L1745.4 1609.1L1746.4 1609.9L1747.4 1609.2L1749.4 1609.0L1750.4 1608.4L1751.4 1609.5L1752.4 1609.7L1753.4 1608.1L1754.4 1609.1L1755.4 1609.4L1756.4 1607.9L1757.4 1608.1L1758.4 1610.8L1759.4 1608.9L1760.4 1608.0L1761.4 1607.9L1762.4 1608.9L1763.4 1607.2L1764.4 1609.0L1766.4 1608.2L1767.4 1608.3L1768.4 1607.6L1769.4 1607.4L1770.4 1608.2L1771.4 1607.1L1772.4 1608.7L1773.4 1608.3L1774.4 1606.7L1775.4 1608.0L1776.4 1607.2L1777.4 1608.4L1780.4 1607.9L1781.4 1608.2L1784.4 1607.0L1785.4 1607.9L1787.4 1607.2L1788.4 1608.8L1789.4 1609.2L1790.4 1606.7L1791.4 1607.0L1792.4 1608.0L1793.4 1607.8L1794.4 1608.8L1795.4 1609.2L1796.4 1607.8L1797.4 1609.3L1798.4 1607.4L1799.4 1608.7L1800.4 1608.0L1801.4 1606.7L1802.4 1606.8L1803.4 1608.5L1804.4 1607.5L1805.4 1609.2L1806.4 1608.9L1808.4 1607.4L1809.4 1609.1L1810.4 1608.4L1811.4 1608.9L1812.4 1610.2L1814.4 1608.4L1815.4 1609.8L1817.4 1609.5L1818.4 1610.9L1819.4 1609.5L1821.4 1609.6L1822.4 1610.0L1823.4 1611.6L1826.4 1612.6L1827.4 1612.7L1828.4 1611.5L1829.4 1611.3L1830.4 1613.2L1831.4 1612.2L1832.4 1614.0L1833.4 1613.5L1835.4 1614.9L1836.4 1613.8L1837.4 1614.0L1840.4 1615.5L1841.8 1615.0L1841.8 1650.1L1843.8 1647.9L1844.8 1648.8L1845.8 1647.4L1847.8 1646.2L1848.8 1646.2L1851.8 1648.2L1853.8 1645.4L1854.8 1645.2L1855.8 1648.4L1856.8 1647.0L1857.8 1646.6L1858.8 1647.1L1859.8 1646.1L1860.8 1646.2L1861.8 1646.6L1862.8 1646.2L1863.8 1647.4L1864.8 1646.9L1865.8 1646.8L1866.8 1645.3L1867.8 1647.3L1869.8 1645.4L1870.8 1646.0L1871.8 1645.3L1872.8 1646.4L1873.8 1645.5L1874.8 1645.1L1875.8 1644.1L1876.8 1645.2L1877.8 1644.7L1878.8 1645.8L1879.8 1645.7L1880.8 1644.5L1881.8 1645.3L1882.8 1644.6L1883.8 1645.1L1884.8 1644.0L1885.8 1643.7L1886.8 1646.3L1887.8 1644.1L1888.8 1645.2L1889.8 1645.2L1890.8 1645.6L1891.8 1644.9L1892.8 1646.4L1893.8 1646.0L1894.8 1646.1L1896.8 1644.7L1898.8 1645.1L1900.8 1646.7L1901.8 1645.0L1902.8 1645.2L1903.8 1645.0L1904.8 1644.1L1905.8 1645.4L1906.8 1645.4L1907.8 1647.0L1908.8 1644.7L1910.8 1645.7L1911.8 1644.8L1912.8 1645.9L1913.8 1645.5L1914.8 1643.5L1915.8 1644.4L1916.8 1644.3L1918.8 1644.5L1919.8 1644.8L1920.8 1643.1L1921.8 1645.0L1922.8 1644.3L1923.8 1645.1L1924.8 1645.1L1925.8 1646.8L1926.8 1646.4L1927.8 1643.6L1928.8 1643.6L1929.8 1645.1L1931.8 1644.3L1932.8 1645.5L1933.8 1643.3L1934.8 1645.5L1935.8 1645.2L1936.8 1646.8L1937.8 1643.4L1938.8 1644.6L1939.8 1643.3L1940.8 1645.4L1941.8 1644.3L1942.8 1644.5L1943.8 1644.4L1944.8 1642.8L1945.8 1642.7L1946.8 1643.4L1947.8 1644.8L1948.8 1643.7L1949.8 1643.3L1950.8 1643.9L1952.8 1644.0L1953.8 1645.0L1955.8 1643.0L1956.8 1645.1L1957.8 1644.2L1959.0 1643.6L1959.0 1591.9L1960.0 1591.9L1961.0 1604.7L1962.0 1612.3L1963.0 1611.3L1964.0 1611.9L1966.0 1611.0L1968.0 1610.7L1969.0 1612.3L1970.0 1609.1L1971.0 1610.5L1972.0 1611.1L1973.0 1610.6L1974.0 1609.8L1975.0 1610.8L1976.0 1610.3L1977.0 1610.3L1978.0 1609.4L1979.0 1610.3L1980.0 1609.3L1981.0 1609.4L1982.0 1609.7L1983.0 1608.5L1985.0 1610.3L1986.0 1609.1L1988.0 1609.3L1989.0 1609.0L1990.0 1607.3L1991.0 1608.9L1992.0 1608.7L1993.0 1609.2L1994.0 1607.9L1995.0 1609.0L1997.0 1609.8L1998.0 1608.4L1999.0 1608.2L2000.0 1610.0L2002.0 1608.2L2003.0 1607.8L2004.0 1609.7L2006.0 1607.9L2007.0 1609.0L2009.0 1608.9L2010.0 1609.5L2011.0 1608.4L2012.0 1608.2L2013.0 1609.6L2015.0 1607.6L2016.0 1608.3L2017.0 1607.7L2018.0 1608.9L2019.0 1607.4L2020.0 1609.1L2021.0 1607.0L2022.0 1608.8L2023.0 1609.1L2024.0 1609.2L2025.0 1608.8L2027.0 1609.1L2028.0 1608.8L2029.0 1608.1L2030.0 1607.9L2031.0 1608.9L2032.0 1607.7L2033.0 1609.5L2035.0 1609.7L2036.0 1608.3L2037.0 1610.1L2038.0 1610.0L2039.0 1607.9L2040.0 1607.6L2041.0 1608.1L2042.0 1610.5L2043.0 1609.5L2044.0 1609.0L2045.0 1609.8L2046.0 1611.3L2047.0 1610.5L2048.0 1611.8L2049.0 1611.6L2050.0 1609.1L2052.0 1612.3L2053.0 1612.5L2054.0 1611.2L2055.0 1612.2L2056.0 1611.5L2057.0 1612.6L2059.0 1612.3L2061.0 1614.4L2064.0 1613.7L2066.0 1614.0L2067.0 1613.7L2068.0 1615.0L2069.0 1613.4L2070.0 1613.2L2071.0 1614.7L2072.0 1615.0L2073.0 1614.4L2073.4 1614.4L2073.4 1650.1L2074.4 1647.9L2078.4 1648.3L2079.4 1646.7L2080.4 1646.1L2081.4 1647.8L2082.4 1646.9L2083.4 1646.6L2085.4 1647.2L2086.4 1646.8L2087.4 1648.0L2088.4 1646.5L2089.4 1646.6L2090.4 1644.6L2092.4 1646.5L2093.4 1646.2L2094.4 1644.8L2095.4 1644.9L2096.4 1646.0L2097.4 1646.2L2098.4 1647.2L2099.4 1646.3L2100.4 1646.1L2101.4 1646.6L2102.4 1644.6L2103.4 1647.4L2104.4 1646.0L2105.4 1645.6L2106.4 1645.5L2107.4 1644.5L2108.4 1646.9L2110.4 1645.7L2111.4 1645.7L2113.4 1646.3L2114.4 1644.9L2115.4 1646.5L2116.4 1646.1L2117.4 1644.5L2118.4 1644.3L2119.4 1644.9L2120.4 1646.3L2123.4 1646.4L2124.4 1645.9L2125.4 1644.5L2127.4 1646.1L2129.4 1646.4L2130.4 1644.5L2131.4 1647.0L2132.4 1645.2L2133.4 1646.5L2134.4 1646.2L2135.4 1646.5L2136.4 1644.5L2137.4 1645.3L2138.4 1643.1L2139.4 1646.1L2140.4 1646.1L2141.4 1644.7L2142.4 1644.7L2143.4 1645.4L2144.4 1646.7L2145.4 1644.0L2146.4 1644.7L2147.4 1644.8L2148.4 1645.5L2149.4 1644.5L2150.4 1645.5L2151.4 1645.0L2152.4 1645.1L2153.4 1644.0L2154.4 1645.3L2155.4 1645.2L2156.4 1644.1L2157.4 1644.7L2159.4 1645.1L2160.4 1644.1L2161.4 1645.3L2163.4 1643.2L2165.4 1645.4L2166.4 1645.7L2167.4 1644.6L2168.4 1645.7L2169.4 1645.9L2170.4 1645.3L2171.4 1645.5L2172.4 1643.9L2173.4 1645.8L2174.4 1643.3L2175.4 1645.2L2177.4 1644.0L2178.4 1644.3L2179.4 1643.9L2181.4 1646.3L2182.4 1644.6L2183.4 1645.8L2185.4 1643.6L2186.4 1644.5L2188.4 1645.2L2189.4 1644.5L2190.6 1644.4L2190.6 1596.9L2191.6 1596.9L2192.6 1608.2L2193.6 1614.6L2194.6 1613.5L2195.6 1613.9L2196.6 1612.7L2197.6 1612.7L2198.6 1613.3L2199.6 1613.3L2201.6 1612.0L2202.6 1612.2L2203.6 1612.8L2204.6 1612.6L2205.6 1611.5L2206.6 1614.0L2207.6 1612.2L2208.6 1613.2L2209.6 1611.4L2210.6 1612.7L2211.6 1612.4L2212.6 1613.1L2215.6 1610.6L2216.6 1612.9L2217.6 1612.1L2218.6 1608.6L2219.6 1610.9L2220.6 1611.5L2221.6 1611.0L2222.6 1613.5L2223.6 1610.0L2225.6 1612.3L2226.6 1610.1L2227.6 1611.5L2228.6 1611.7L2229.6 1610.4L2230.6 1610.4L2231.6 1611.0L2232.6 1610.6L2233.6 1611.6L2234.6 1611.6L2235.6 1609.6L2236.6 1609.2L2237.6 1609.9L2238.6 1609.8L2239.6 1610.4L2240.6 1610.1L2241.6 1610.6L2242.6 1608.4L2243.6 1610.2L2244.6 1609.3L2245.6 1609.6L2246.6 1610.6L2247.6 1607.9L2248.6 1609.6L2249.6 1609.9L2250.6 1609.1L2251.6 1609.8L2252.6 1609.0L2253.6 1609.7L2254.6 1608.4L2255.6 1608.7L2256.6 1609.8L2257.6 1607.8L2259.6 1609.3L2260.6 1608.1L2261.6 1608.0L2262.6 1606.8L2263.6 1608.8L2264.6 1607.4L2265.6 1608.1L2266.6 1607.4L2267.6 1608.1L2269.6 1607.3L2270.6 1608.6L2271.6 1609.2L2272.5 1609.2" stroke="#0ff" stroke-width="8.5"/>
</g>
<rect x="248.0" y="61.9" width="2026.0" height="1630.8" fill="none" stroke="#000" stroke-width="6.2"/><path d="M213.0 1647.4H248.0M213.0 1420.9H248.0M213.0 1194.4H248.0M213.0 967.9H248.0M213.0 741.4H248.0M213.0 514.9H248.0M213.0 288.4H248.0M213.0 61.9H248.0M230.0 1534.2H248.0M230.0 1307.7H248.0M230.0 1081.2H248.0M230.0 854.7H248.0M230.0 628.2H248.0M230.0 401.7H248.0M230.0 175.2H248.0M248.0 1692.7V1726.2M826.4 1692.7V1726.2M1404.9 1692.7V1726.2M1983.3 1692.7V1726.2M537.2 1692.7V1710.7M1115.6 1692.7V1710.7M1694.1 1692.7V1710.7M2274.0 1692.7V1710.7" stroke="#000" stroke-width="6.2" fill="none" stroke-linecap="butt"/>
<g font-family="'Liberation Sans', Arial, sans-serif" fill="#000">
<g font-size="71"><text x="194.5" y="1669.7" text-anchor="end" transform="translate(0 1669.7) scale(1 1.04) translate(0 -1669.7)">0</text><text x="194.5" y="1443.2" text-anchor="end" transform="translate(0 1443.2) scale(1 1.04) translate(0 -1443.2)">1</text><text x="194.5" y="1216.7" text-anchor="end" transform="translate(0 1216.7) scale(1 1.04) translate(0 -1216.7)">2</text><text x="194.5" y="990.2" text-anchor="end" transform="translate(0 990.2) scale(1 1.04) translate(0 -990.2)">3</text><text x="194.5" y="763.7" text-anchor="end" transform="translate(0 763.7) scale(1 1.04) translate(0 -763.7)">4</text><text x="194.5" y="537.2" text-anchor="end" transform="translate(0 537.2) scale(1 1.04) translate(0 -537.2)">5</text><text x="194.5" y="310.7" text-anchor="end" transform="translate(0 310.7) scale(1 1.04) translate(0 -310.7)">6</text><text x="194.5" y="84.2" text-anchor="end" transform="translate(0 84.2) scale(1 1.04) translate(0 -84.2)">7</text><text x="248.5" y="1802" text-anchor="middle" transform="translate(0 1802) scale(1 1.04) translate(0 -1802)">0</text><text x="826.9" y="1802" text-anchor="middle" transform="translate(0 1802) scale(1 1.04) translate(0 -1802)">100</text><text x="1405.4" y="1802" text-anchor="middle" transform="translate(0 1802) scale(1 1.04) translate(0 -1802)">200</text><text x="1983.8" y="1802" text-anchor="middle" transform="translate(0 1802) scale(1 1.04) translate(0 -1802)">300</text></g>
<text font-size="86" x="1168" y="1898.5" transform="translate(0 1898.5) scale(1 1.025) translate(0 -1898.5)">Time (s)</text>
<text font-size="85" transform="translate(115.5 1310) rotate(-90) scale(1 1.03)">Current density (μAcm<tspan font-size="52" dy="-36.7">−</tspan><tspan font-size="52" dy="-4.1" dx="-1">2</tspan><tspan dy="40.8" dx="1">)</tspan></text>
</g>
<g stroke="#000" stroke-width="2.6" fill="none">
<path d="M427.4 387.3L366 450"/>
<path d="M510.7 702.5L468 825"/>
</g>
<g fill="#000">
<path d="M348.7 468.1L370.1 430.9L385.2 445.2Z"/>
<path d="M459.5 850.2L464 807.4L483.2 814.3Z"/>
</g>
<g stroke-width="6.5" stroke-linecap="round">
<path d="M1622 158.5H1814" stroke="#000"/>
<path d="M1622 286.9H1814" stroke="#f0f"/>
<path d="M1622 391.4H1814" stroke="#f00"/>
<path d="M1622 495.7H1814" stroke="#00f"/>
<path d="M1622 600.2H1814" stroke="#0ff"/>
</g>
<g font-family="'Liberation Sans', Arial, sans-serif" font-size="85" fill="#000">
<text x="1835" y="187.5" transform="translate(0 187.5) scale(1 1.035) translate(0 -187.5)">g-C<tspan font-size="51" dy="29">3</tspan><tspan dy="-29">N</tspan><tspan font-size="51" dy="29">4</tspan></text>
<text x="1835" y="315.5" transform="translate(0 315.5) scale(1 1.035) translate(0 -315.5)">G-CdS-1</text>
<text x="1835" y="420.5" transform="translate(0 420.5) scale(1 1.035) translate(0 -420.5)">G-CdS-3</text>
<text x="1835" y="524.5" transform="translate(0 524.5) scale(1 1.035) translate(0 -524.5)">G-CdS-5</text>
<text x="1835" y="629.5" transform="translate(0 629.5) scale(1 1.035) translate(0 -629.5)">CdS</text>
</g>
</svg>
</body></html>
